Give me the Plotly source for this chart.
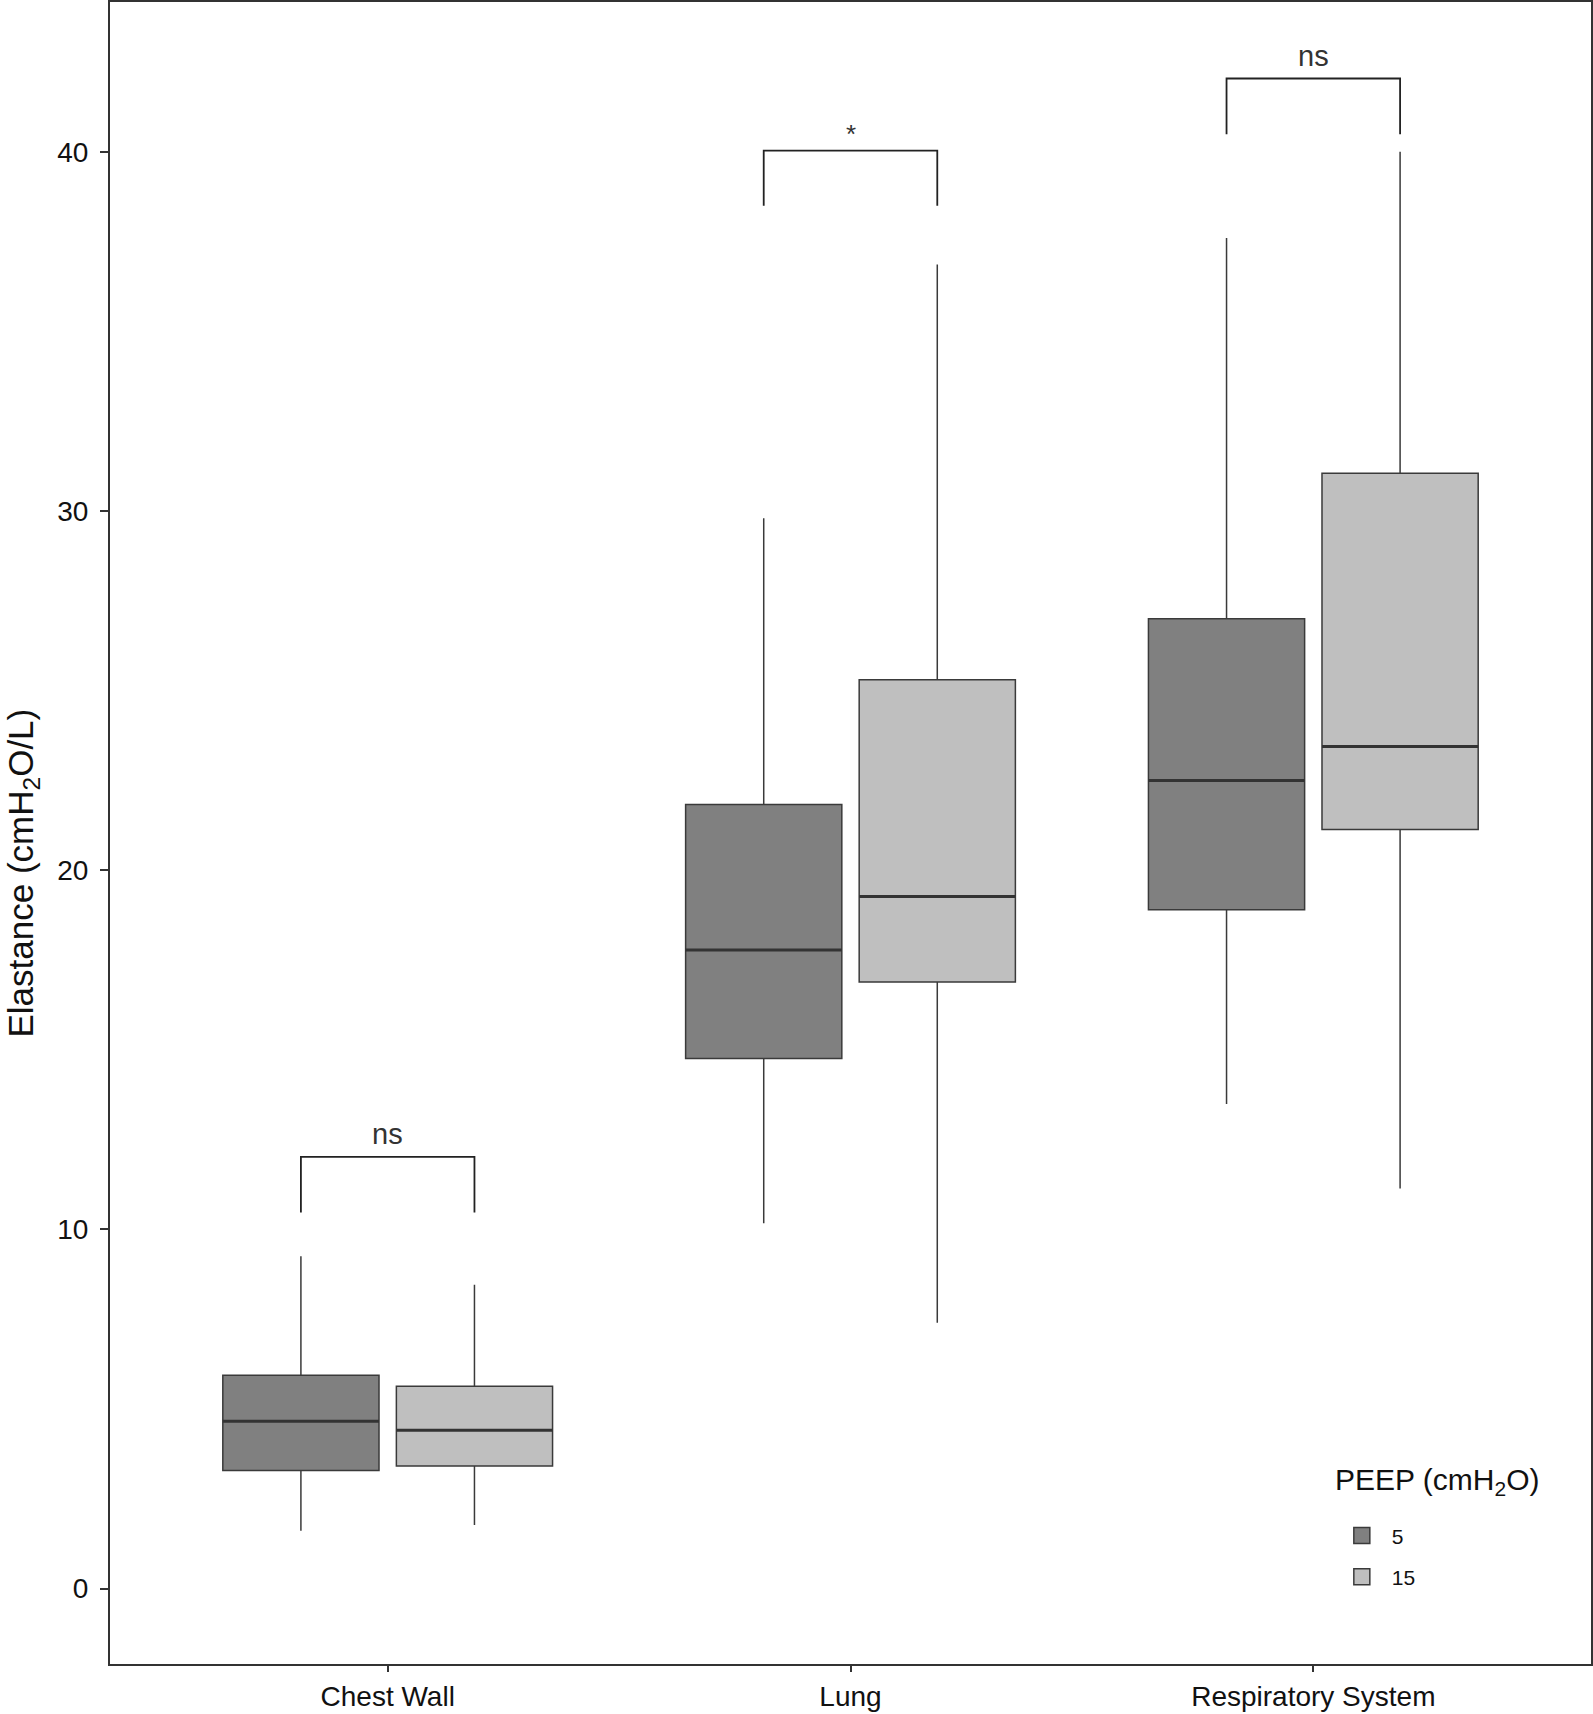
import plotly.graph_objects as go

# ---- data ----
categories = ["Chest Wall", "Lung", "Respiratory System"]
groups = ["5", "15"]

# PEEP 5
p5_low = [1.61, 10.17, 13.49]
p5_q1 = [3.29, 14.76, 18.90]
p5_med = [4.66, 17.78, 22.50]
p5_q3 = [5.94, 21.83, 27.00]
p5_high = [9.25, 29.80, 37.60]

# PEEP 15
p15_low = [1.77, 7.40, 11.14]
p15_q1 = [3.41, 16.89, 21.13]
p15_med = [4.41, 19.27, 23.44]
p15_q3 = [5.63, 25.30, 31.05]
p15_high = [8.46, 36.86, 40.00]

# significance brackets
sig_labels = ["ns", "*", "ns"]
sig_bar_y = [12.02, 40.03, 42.04]
sig_leg_y = [10.47, 38.50, 40.49]

colors = {"5": "#808080", "15": "#bfbfbf"}
outline = "#3a3a3a"
FONT = "Liberation Sans, Arial, sans-serif"

DODGE = 0.1875   # half of dodge width 0.75
BOXGAP = 0.25
BOXGROUPGAP = 0.1
HALF_W = (1 - BOXGAP) / 2 * (1 - BOXGROUPGAP) / 2

fig = go.Figure()
series = {
    "5": (p5_low, p5_q1, p5_med, p5_q3, p5_high),
    "15": (p15_low, p15_q1, p15_med, p15_q3, p15_high),
}
for g in groups:
    lo, q1, med, q3, hi = series[g]
    fig.add_trace(go.Box(
        name=g, x=categories, q1=q1, median=med, q3=q3,
        lowerfence=lo, upperfence=hi, legendgroup=g, showlegend=False,
        fillcolor=colors[g], line=dict(color=outline, width=1.5),
        whiskerwidth=0, boxpoints=False, hoverinfo="skip",
    ))
# legend keys (box-like squares)
for g in groups:
    fig.add_trace(go.Scatter(
        name=g, x=[None], y=[None], mode="markers", legendgroup=g,
        marker=dict(symbol="square", size=24, color=colors[g],
                    line=dict(color=outline, width=1.5)),
        hoverinfo="skip",
    ))

shapes = []
# median lines (thicker)
for gi, g in enumerate(groups):
    med = series[g][2]
    off = -DODGE if gi == 0 else DODGE
    for ci, m in enumerate(med):
        shapes.append(dict(type="line", xref="x", yref="y",
                           x0=ci + off - HALF_W, x1=ci + off + HALF_W, y0=m, y1=m,
                           line=dict(color="#333333", width=3)))
# brackets
annotations = []
for ci, (lab, by, ly) in enumerate(zip(sig_labels, sig_bar_y, sig_leg_y)):
    x0, x1 = ci - DODGE, ci + DODGE
    shapes.append(dict(type="path", xref="x", yref="y",
                       path=f"M {x0},{ly} L {x0},{by} L {x1},{by} L {x1},{ly}",
                       line=dict(color="#222222", width=1.8)))
    annotations.append(dict(x=ci, y=by, xref="x", yref="y", text=lab,
                            showarrow=False, yanchor="bottom",
                            yshift=5 if lab == "ns" else 0,
                            font=dict(size=29 if lab == "ns" else 26, color="#333333",
                                      family=FONT)))

# y axis title as annotation
annotations.append(dict(text="Elastance (cmH<sub>2</sub>O/L)", textangle=-90,
                        xref="paper", yref="paper", x=-0.059, y=0.476,
                        xanchor="center", yanchor="middle", showarrow=False,
                        font=dict(size=35, color="#111111", family=FONT)))
# legend title
annotations.append(dict(text="PEEP (cmH<sub>2</sub>O)",
                        xref="paper", yref="paper", x=0.826, y=0.110,
                        xanchor="left", yanchor="middle", showarrow=False,
                        font=dict(size=30, color="#111111", family=FONT)))

fig.update_layout(
    width=1593, height=1714,
    margin=dict(l=110, r=2, t=2, b=50),
    paper_bgcolor="white", plot_bgcolor="white",
    boxmode="group", boxgap=BOXGAP, boxgroupgap=BOXGROUPGAP,
    font=dict(family=FONT, color="#111111"),
    shapes=shapes, annotations=annotations,
    legend=dict(
        font=dict(size=21), x=0.825, y=0.0895, xanchor="left", yanchor="top",
        bgcolor="rgba(0,0,0,0)", tracegroupgap=11, itemwidth=50,
    ),
    showlegend=True,
)
fig.update_xaxes(
    type="category", range=[-0.6, 2.6], automargin=False,
    showline=True, linecolor="#333333", linewidth=2, mirror=True,
    ticks="outside", ticklen=6, tickcolor="#333333", tickwidth=1.5,
    ticklabelstandoff=0,
    tickfont=dict(size=28, color="#111111"), showgrid=False,
)
fig.update_yaxes(
    range=[-2.1, 44.17], tickvals=[0, 10, 20, 30, 40], automargin=False,
    showline=True, linecolor="#333333", linewidth=2, mirror=True,
    ticks="outside", ticklen=8, tickcolor="#333333", tickwidth=1.5,
    ticklabelstandoff=6,
    tickfont=dict(size=28, color="#111111"), showgrid=False, zeroline=False,
)

fig.write_html("out.html", config={"displayModeBar": False},
               post_script="document.body.style.margin='0';")
